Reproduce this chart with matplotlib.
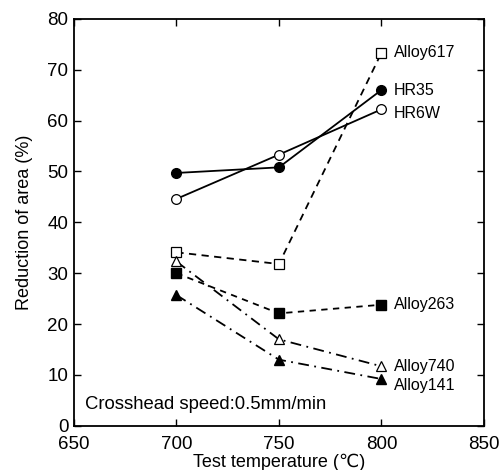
"""
Reduction of area vs test temperature for several heat-resistant alloys.
"""

import matplotlib
matplotlib.use("Agg")
import matplotlib.pyplot as plt

plt.rcParams["font.family"] = ["Liberation Sans", "DejaVu Sans"]

# data
temps = [700, 750, 800]
hr35 = [49.7, 50.8, 66.0]
hr6w = [44.6, 53.3, 62.2]
alloy617 = [34.1, 31.8, 73.3]
alloy263 = [30.0, 22.1, 23.8]
alloy740 = [32.3, 17.0, 11.7]
alloy141 = [25.7, 13.0, 9.2]

fig = plt.figure(figsize=(5.03, 4.70), dpi=100)
ax = fig.add_axes([0.147, 0.094, 0.815, 0.866])

lw = 1.3
ax.plot(temps, hr35, "-", color="black", lw=lw, marker="o", ms=7,
        mfc="black", mec="black")
ax.plot(temps, hr6w, "-", color="black", lw=lw, marker="o", ms=7,
        mfc="white", mec="black", mew=0.9)
ax.plot(temps, alloy617, color="black", lw=lw, ls=(0, (4, 3)), marker="s",
        ms=6.5, mfc="white", mec="black", mew=0.9)
ax.plot(temps, alloy263, color="black", lw=lw, ls=(0, (3.5, 3)), marker="s",
        ms=6.5, mfc="black", mec="black")
ax.plot(temps, alloy740, color="black", lw=lw, ls=(0, (6, 3, 1, 3)), marker="^",
        ms=7.5, mfc="white", mec="black", mew=0.9)
ax.plot(temps, alloy141, color="black", lw=lw, ls=(0, (6, 3, 1, 3)), marker="^",
        ms=7.5, mfc="black", mec="black")

# series labels next to the last point
labels = [("Alloy617", alloy617, 0), ("HR35", hr35, 0), ("HR6W", hr6w, -3),
          ("Alloy263", alloy263, 0), ("Alloy740", alloy740, 0),
          ("Alloy141", alloy141, -5)]
for name, ys, dy in labels:
    ax.annotate(name, (temps[-1], ys[-1]), xytext=(9, dy),
                textcoords="offset points", va="center", ha="left", fontsize=11.5)

ax.text(0.027, 0.052, "Crosshead speed:0.5mm/min", transform=ax.transAxes,
        va="center", ha="left", fontsize=13.3)

ax.set_xlim(650, 850)
ax.set_ylim(0, 80)
ax.set_xticks([650, 700, 750, 800, 850])
ax.set_yticks(range(0, 81, 10))
ax.tick_params(direction="in", top=True, right=True, length=5, width=1,
               labelsize=13.5)
ax.tick_params(axis="y", pad=4)
ax.tick_params(axis="x", pad=7)
for s in ax.spines.values():
    s.set_linewidth(1.3)

ax.set_xlabel("Test temperature (\u2103)", fontsize=13, labelpad=0.5)
ax.set_ylabel("Reduction of area (%)", fontsize=13, labelpad=10)

plt.savefig("out.png", dpi=100)
